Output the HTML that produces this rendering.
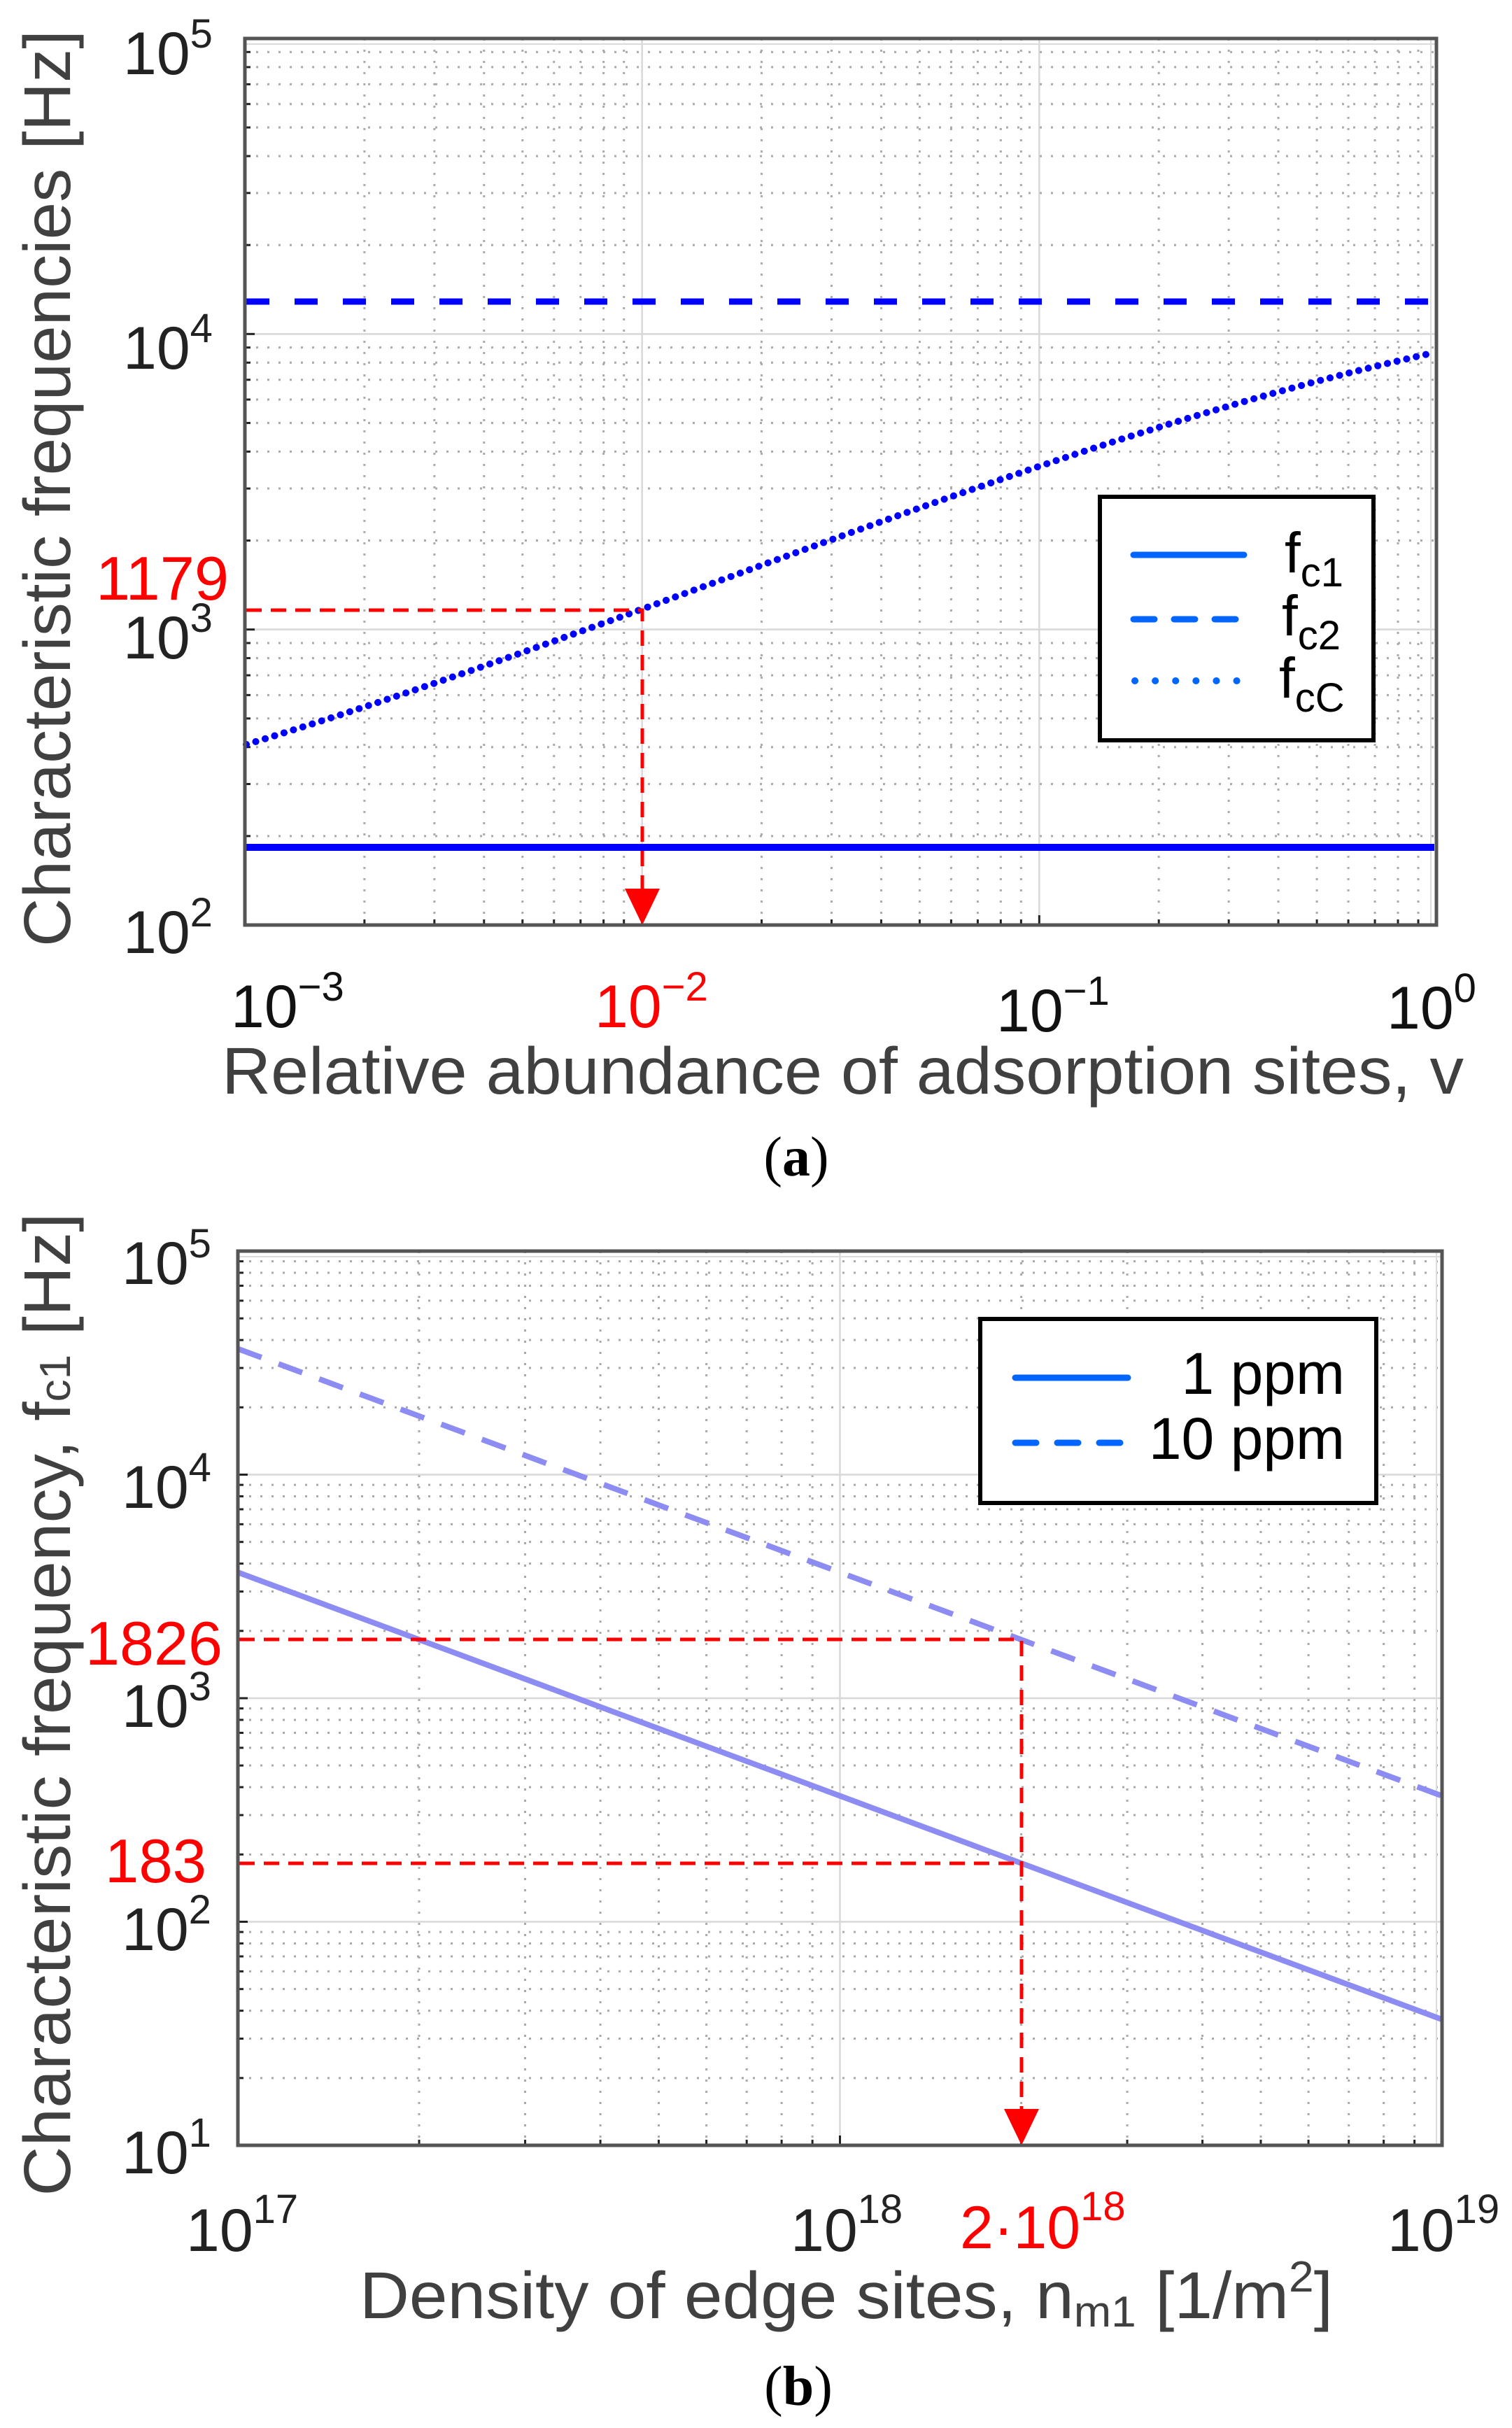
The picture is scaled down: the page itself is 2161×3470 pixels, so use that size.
<!DOCTYPE html>
<html><head><meta charset="utf-8"><style>
html,body{margin:0;padding:0;background:#fff;}
svg{display:block;}
text{font-family:"Liberation Sans",sans-serif;}
</style></head><body>
<svg id="s" width="2161" height="3470" viewBox="0 0 2161 3470" xmlns="http://www.w3.org/2000/svg">
<rect width="2161" height="3470" fill="#fff"/>
<g id="grid"></g>
<g id="curves"></g>

<path d="M352 872 H918 V1285" fill="none" stroke="#ff0000" stroke-width="5" stroke-dasharray="22 13"/>
<polygon points="893,1270 943,1270 918,1322" fill="#ff0000"/>
<rect x="350" y="55" width="1703" height="1267" fill="none" stroke="#555" stroke-width="5"/>
<rect x="1572" y="710" width="391" height="348" fill="#fff" stroke="#000" stroke-width="6"/>
<line x1="1620" y1="793" x2="1778" y2="793" stroke="#0066ff" stroke-width="9" stroke-linecap="round"/>
<line x1="1620" y1="885" x2="1778" y2="885" stroke="#0066ff" stroke-width="9" stroke-linecap="round" stroke-dasharray="30 28"/>
<line x1="1622" y1="973" x2="1778" y2="973" stroke="#0066ff" stroke-width="10" stroke-linecap="round" stroke-dasharray="0.1 29"/>
<text x="1836" y="818" font-size="82" fill="#000">f<tspan font-size="58" dy="20">c1</tspan></text>
<text x="1832" y="908" font-size="82" fill="#000">f<tspan font-size="58" dy="20">c2</tspan></text>
<text x="1828" y="997" font-size="82" fill="#000">f<tspan font-size="58" dy="20">cC</tspan></text>

<text transform="translate(100,698) rotate(-90)" text-anchor="middle" font-size="95" fill="#404040" textLength="1310" lengthAdjust="spacingAndGlyphs">Characteristic frequencies [Hz]</text>
<text x="317" y="1563" font-size="95" fill="#404040" textLength="1775" lengthAdjust="spacingAndGlyphs">Relative abundance of adsorption sites, v</text>
<text x="1138" y="1680" text-anchor="middle" font-size="80" style="font-family:'Liberation Serif',serif" fill="#000">(<tspan font-weight="bold">a</tspan>)</text>
<text x="137" y="857" font-size="88" fill="#ff0000" textLength="190" lengthAdjust="spacingAndGlyphs">1179</text>

<path d="M342 2343 H1460 V3030" fill="none" stroke="#ff0000" stroke-width="5" stroke-dasharray="22 13"/>
<path d="M342 2663 H1460" fill="none" stroke="#ff0000" stroke-width="5" stroke-dasharray="22 13"/>
<polygon points="1435,3014 1485,3014 1460,3066" fill="#ff0000"/>
<rect x="340" y="1788" width="1721" height="1278" fill="none" stroke="#555" stroke-width="5"/>
<rect x="1401" y="1885" width="566" height="263" fill="#fff" stroke="#000" stroke-width="6"/>
<line x1="1451" y1="1969" x2="1612" y2="1969" stroke="#0066ff" stroke-width="9" stroke-linecap="round"/>
<line x1="1451" y1="2062" x2="1605" y2="2062" stroke="#0066ff" stroke-width="9" stroke-linecap="round" stroke-dasharray="30 30"/>
<text x="1922" y="1992" text-anchor="end" font-size="84" fill="#000">1 ppm</text>
<text x="1922" y="2085" text-anchor="end" font-size="84" fill="#000">10 ppm</text>

<text transform="translate(100,2436) rotate(-90)" text-anchor="middle" font-size="95" fill="#404040" textLength="1405" lengthAdjust="spacingAndGlyphs">Characteristic frequency, f<tspan font-size="62" dy="0">c1</tspan> [Hz]</text>
<text x="514" y="3313" font-size="95" fill="#404040" textLength="1391" lengthAdjust="spacingAndGlyphs">Density of edge sites, n<tspan font-size="62" dy="12">m1</tspan><tspan dy="-12"> [1/m</tspan><tspan font-size="62" dy="-38">2</tspan><tspan dy="38">]</tspan></text>
<text x="1141" y="3437" text-anchor="middle" font-size="80" style="font-family:'Liberation Serif',serif" fill="#000">(<tspan font-weight="bold">b</tspan>)</text>
<text x="122" y="2379" font-size="88" fill="#ff0000" textLength="196" lengthAdjust="spacingAndGlyphs">1826</text>
<text x="150" y="2690" font-size="88" fill="#ff0000" textLength="145" lengthAdjust="spacingAndGlyphs">183</text>
<g id="ticks"></g>
</svg>
<script>
var NS="http://www.w3.org/2000/svg";
function el(p,n,a,t){var e=document.createElementNS(NS,n);for(var k in a)e.setAttribute(k,a[k]);if(t!==undefined)e.textContent=t;p.appendChild(e);return e;}
var G=document.getElementById('grid'),C=document.getElementById('curves'),T=document.getElementById('ticks');
function grid(L,R,Tp,B,x0,x1,y0,y1){
  var dx=(R-L)/(x1-x0), dy=(B-Tp)/(y1-y0);
  for(var d=x0;d<x1;d++)for(var m=1;m<10;m++){var x=L+(d-x0+Math.log10(m))*dx;
    if(m==1){ if(d>x0) el(G,'line',{x1:x,y1:Tp,x2:x,y2:B,stroke:'#d8d8d8','stroke-width':2.5});}
    else el(G,'line',{x1:x,y1:Tp,x2:x,y2:B,stroke:'#aaa','stroke-width':3,'stroke-dasharray':'3 13'});
    el(G,'line',{x1:x,y1:B,x2:x,y2:B-(m==1?14:8),stroke:'#222','stroke-width':3});}
  for(var d=y0;d<y1;d++)for(var m=1;m<10;m++){var y=B-(d-y0+Math.log10(m))*dy;
    if(m==1){ if(d>y0) el(G,'line',{x1:L,y1:y,x2:R,y2:y,stroke:'#d8d8d8','stroke-width':2.5});}
    else el(G,'line',{x1:L,y1:y,x2:R,y2:y,stroke:'#aaa','stroke-width':3,'stroke-dasharray':'3 13'});
    el(G,'line',{x1:L,y1:y,x2:L+(m==1?14:8),y2:y,stroke:'#222','stroke-width':3});}
  el(G,'line',{x1:L,y1:Tp+8,x2:R,y2:Tp+8,stroke:'#dcdcdc','stroke-width':2});
  el(G,'line',{x1:R-8,y1:Tp,x2:R-8,y2:B,stroke:'#dcdcdc','stroke-width':2});
}
grid(350,2053,55,1322,-3,0,2,5);
var ax=function(l){return 352+(l+3)*564.3;}, ay=function(l){return 63+(5-l)*419;};
el(C,'line',{x1:352,y1:1211,x2:2050,y2:1211,stroke:'#0000ff','stroke-width':10});
el(C,'line',{x1:352,y1:431,x2:2050,y2:431,stroke:'#0000ff','stroke-width':9,'stroke-dasharray':'33 36'});
var P=[[-3,2.611],[-2,3.0715],[-1,3.556],[0,3.945]];
function interp(v){var s=0;for(var i=0;i<4;i++){var t=P[i][1];for(var j=0;j<4;j++)if(j!=i)t*=(v-P[j][0])/(P[i][0]-P[j][0]);s+=t;}return s;}
var d='';for(var i=0;i<=120;i++){var v=-3+3*i/120;d+=(i?'L':'M')+ax(v).toFixed(1)+' '+ay(interp(v)).toFixed(1);}
el(C,'path',{d:d,fill:'none',stroke:'#0000ff','stroke-width':10,'stroke-linecap':'round','stroke-dasharray':'0.1 14'});
grid(340,2061,1788,3066,17,19,1,5);
var bx=function(l){return 340+(l-17)*860.5;}, by=function(l){return 1788+(5-l)*319.5;};
el(C,'line',{x1:bx(17),y1:by(3.563),x2:bx(19),y2:by(1.563),stroke:'#8c8cf2','stroke-width':8});
el(C,'line',{x1:bx(17),y1:by(4.563),x2:bx(19),y2:by(2.563),stroke:'#8c8cf2','stroke-width':8,'stroke-dasharray':'36 26'});
function pw(x,y,base,exp,col,fs,sfs,dy){var t=el(T,'text',{x:x,y:y,'font-size':fs,fill:col});
  var a=document.createElementNS(NS,'tspan');a.textContent=base;t.appendChild(a);
  var b=document.createElementNS(NS,'tspan');b.setAttribute('font-size',sfs);b.setAttribute('dy',-dy);b.textContent=exp;t.appendChild(b);}
[[5,106],[4,527],[3,941],[2,1362]].forEach(function(p){pw(176,p[1],'10',p[0],'#222',86,58,38);});
pw(330,1468,'10','\u22123','#111',86,58,38);
pw(850,1468,'10','\u22122','#ff0000',86,58,38);
pw(1424,1474,'10','\u22121','#111',86,58,38);
pw(1982,1470,'10','0','#111',86,58,38);
[[5,1835],[4,2155],[3,2468],[2,2787],[1,3106]].forEach(function(p){pw(174,p[1],'10',p[0],'#222',86,58,38);});
pw(266,3217,'10','17','#222',86,58,40);
pw(1130,3217,'10','18','#222',86,58,40);
pw(1372,3213,'2\u00b710','18','#ff0000',86,58,40);
pw(1983,3217,'10','19','#222',86,58,40);
</script>
</body></html>
